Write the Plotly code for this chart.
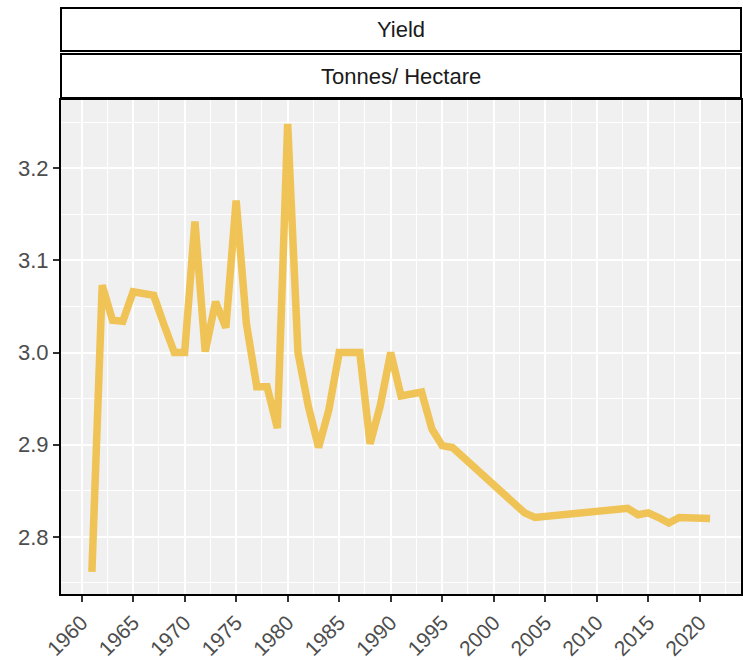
import plotly.graph_objects as go

years = [1961, 1962, 1963, 1964, 1965, 1966, 1967, 1968, 1969, 1970,
         1971, 1972, 1973, 1974, 1975, 1976, 1977, 1978, 1979, 1980,
         1981, 1982, 1983, 1984, 1985, 1986, 1987, 1988, 1989, 1990,
         1991, 1992, 1993, 1994, 1995, 1996, 2003, 2004, 2013, 2014,
         2015, 2016, 2017, 2018, 2019, 2020, 2021]
yield_t_ha = [2.762, 3.073, 3.035, 3.034, 3.066, 3.064, 3.062, 3.030, 3.000, 3.000,
              3.142, 3.001, 3.055, 3.027, 3.165, 3.031, 2.963, 2.963, 2.918, 3.248,
              3.000, 2.942, 2.897, 2.938, 3.000, 3.000, 3.000, 2.901, 2.943, 3.000,
              2.953, 2.955, 2.957, 2.917, 2.899, 2.897, 2.826, 2.821, 2.831, 2.824,
              2.826, 2.821, 2.815, 2.821, 2.820, 2.819, 2.820]
x_ticks = [1960, 1965, 1970, 1975, 1980, 1985, 1990, 1995, 2000, 2005, 2010, 2015, 2020]
y_ticks = [2.8, 2.9, 3.0, 3.1, 3.2]
strip_top = "Yield"
strip_bottom = "Tonnes/ Hectare"

FONT = "Liberation Sans, Arial, sans-serif"

fig = go.Figure()
fig.add_trace(go.Scatter(
    x=years, y=yield_t_ha, mode="lines",
    line=dict(color="rgba(239,190,70,0.9)", width=7.5),
    hoverinfo="x+y", showlegend=False,
))

fig.update_layout(
    width=743, height=660,
    margin=dict(l=61, r=2, t=100, b=66),
    paper_bgcolor="white",
    plot_bgcolor="#F0F0F0",
    font=dict(family=FONT, size=22, color="#4D4D4D"),
    showlegend=False,
)

fig.update_xaxes(
    range=[1958, 2024], automargin=False,
    tickmode="array", tickvals=x_ticks, ticktext=[str(v) for v in x_ticks],
    tickangle=-45,
    ticks="outside", ticklen=6, tickwidth=1.5, tickcolor="#333333",
    tickfont=dict(family=FONT, size=21, color="#4D4D4D"),
    showgrid=True, gridcolor="white", gridwidth=1.8,
    minor=dict(tickmode="linear", tick0=1962.5, dtick=5, showgrid=True,
               gridcolor="white", gridwidth=0.9, ticks=""),
    showline=True, linecolor="black", linewidth=2, mirror=True,
    zeroline=False,
)
fig.update_yaxes(
    range=[2.738, 3.274], automargin=False,
    tickmode="array", tickvals=y_ticks, ticktext=[f"{v:.1f}" for v in y_ticks],
    ticks="outside", ticklen=6, tickwidth=1.5, tickcolor="#333333",
    tickfont=dict(family=FONT, size=22, color="#4D4D4D"),
    showgrid=True, gridcolor="white", gridwidth=1.8,
    minor=dict(tickmode="linear", tick0=2.75, dtick=0.05, showgrid=True,
               gridcolor="white", gridwidth=0.9, ticks=""),
    showline=True, linecolor="black", linewidth=2, mirror=True,
    zeroline=False,
)

# facet strips
for (y0, y1, label) in [(2, 46, strip_bottom), (49, 92, strip_top)]:
    fig.add_shape(type="rect", xref="paper", yref="paper",
                  ysizemode="pixel", yanchor=1, x0=0, x1=1, y0=y0, y1=y1,
                  line=dict(color="black", width=2), fillcolor="white", layer="above")
    fig.add_annotation(xref="paper", yref="paper", x=0.5, y=1,
                       yshift=(y0 + y1) / 2, text=label, showarrow=False,
                       font=dict(family=FONT, size=22, color="#1A1A1A"),
                       xanchor="center", yanchor="middle")

fig.write_html(
    "out.html",
    config={"responsive": False, "displayModeBar": False},
    post_script="document.body.style.margin='0';document.body.style.overflow='hidden';",
)
